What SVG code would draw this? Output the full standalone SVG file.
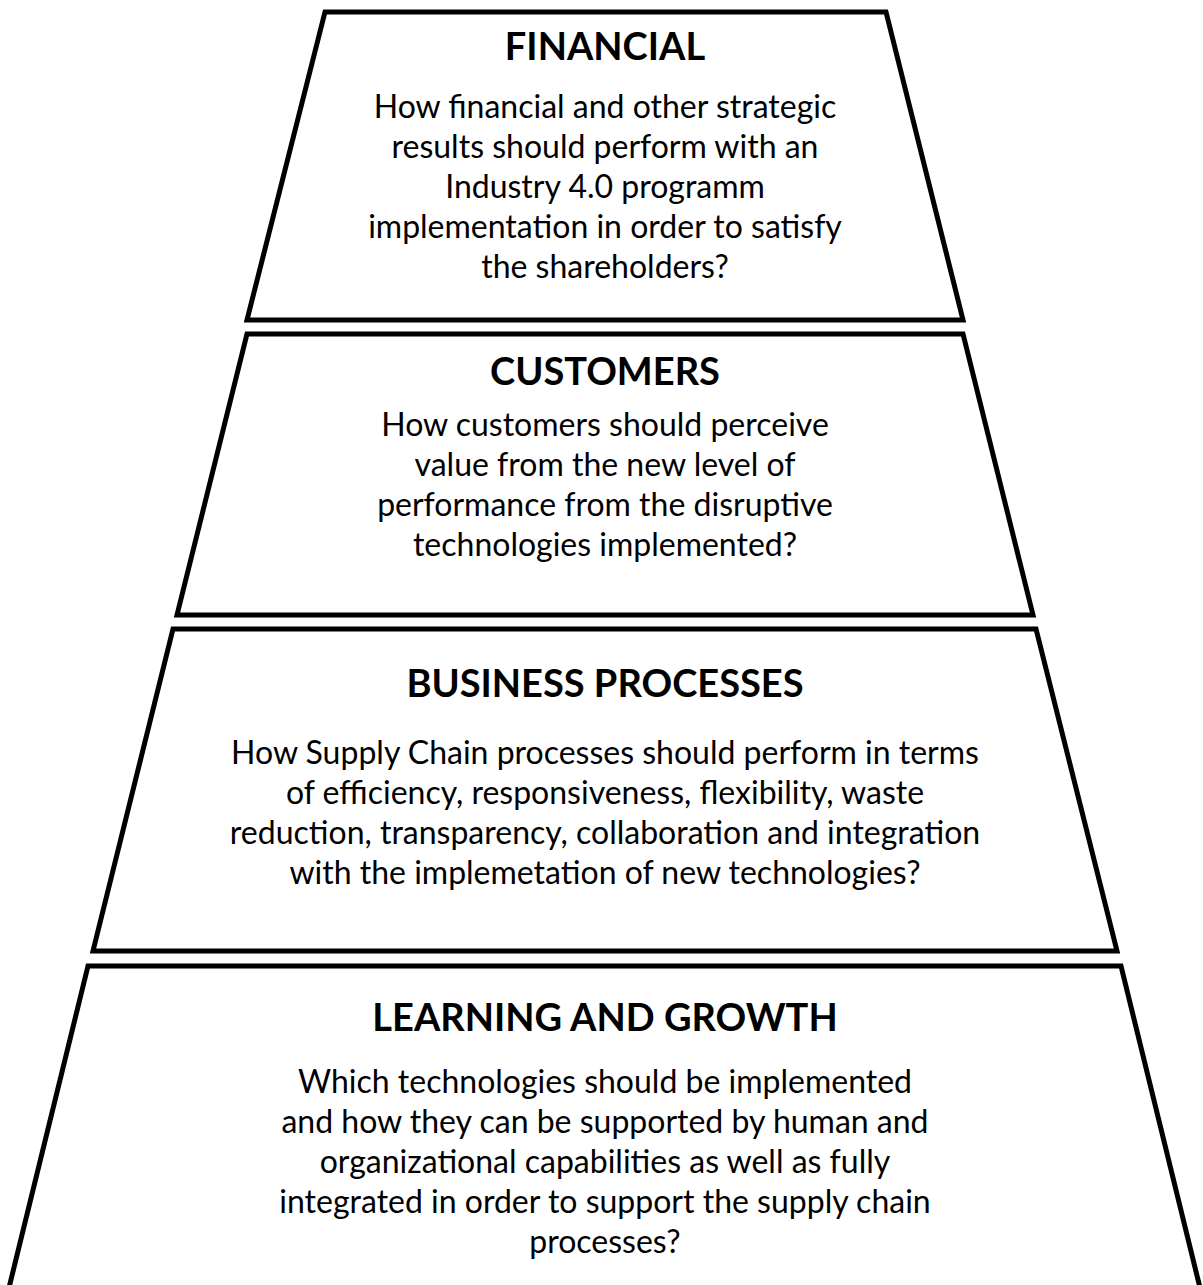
<svg xmlns="http://www.w3.org/2000/svg" width="1203" height="1285" viewBox="0 0 1203 1285">
<style>
.box{fill:#fff;stroke:#000;stroke-width:5;stroke-linejoin:miter}
.t{font-family:Lato,"Open Sans","Liberation Sans",sans-serif;font-weight:700;font-size:38px;text-anchor:middle;fill:#000}
.b{font-family:Lato,"Open Sans","Liberation Sans",sans-serif;font-size:32px;text-anchor:middle;fill:#000}
</style>
<rect width="1203" height="1285" fill="#fff"/>
<g id="financial">
<polygon class="box" points="325,12 886,12 963,320 247,320"/>
<text class="t" x="605" y="60">FINANCIAL</text>
<text class="b" x="605" y="118">How financial and other strategic</text>
<text class="b" x="605" y="158">results should perform with an</text>
<text class="b" x="605" y="198">Industry 4.0 programm</text>
<text class="b" x="605" y="238">implementation in order to satisfy</text>
<text class="b" x="605" y="278">the shareholders?</text>
</g>
<g id="customers">
<polygon class="box" points="247,334 963,334 1033,615 177,615"/>
<text class="t" x="605" y="385">CUSTOMERS</text>
<text class="b" x="605" y="436">How customers should perceive</text>
<text class="b" x="605" y="476">value from the new level of</text>
<text class="b" x="605" y="516">performance from the disruptive</text>
<text class="b" x="605" y="556">technologies implemented?</text>
</g>
<g id="business">
<polygon class="box" points="173,629 1036,629 1117,951 93,951"/>
<text class="t" x="605" y="697">BUSINESS PROCESSES</text>
<text class="b" x="605" y="764">How Supply Chain processes should perform in terms</text>
<text class="b" x="605" y="804">of efficiency, responsiveness, flexibility, waste</text>
<text class="b" x="605" y="844">reduction, transparency, collaboration and integration</text>
<text class="b" x="605" y="884">with the implemetation of new technologies?</text>
</g>
<g id="learning">
<path class="box" d="M6,1300 L88,966 L1121,966 L1203,1300"/>
<text class="t" x="605" y="1031">LEARNING AND GROWTH</text>
<text class="b" x="605" y="1093">Which technologies should be implemented</text>
<text class="b" x="605" y="1133">and how they can be supported by human and</text>
<text class="b" x="605" y="1173">organizational capabilities as well as fully</text>
<text class="b" x="605" y="1213">integrated in order to support the supply chain</text>
<text class="b" x="605" y="1253">processes?</text>
</g>
<g id="connectors"></g>
</svg>
